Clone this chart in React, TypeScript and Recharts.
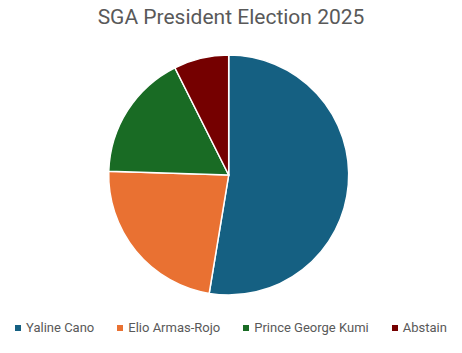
import React from "react";
import { PieChart, Pie, Cell, Legend } from "recharts";

const candidates = ["Yaline Cano", "Elio Armas-Rojo", "Prince George Kumi", "Abstain"];
const shares = [52.6, 22.9, 17.1, 7.4];
const colors = ["#156082", "#E97132", "#196B24", "#750000"];
const title = "SGA President Election 2025";

const data = candidates.map((name, i) => ({ name, value: shares[i] }));

const FONT = "Roboto, 'Noto Sans', sans-serif";

const renderLegend = () => {
  return (
    <div
      style={{
        display: "flex",
        justifyContent: "center",
        alignItems: "center",
        fontFamily: FONT,
        fontSize: 13,
        color: "#595959",
        width: 462,
      }}
    >
      {candidates.map((name, i) => (
        <div
          key={name}
          style={{ display: "flex", alignItems: "center", marginLeft: i === 0 ? 0 : 23 }}
        >
          <span
            style={{
              display: "inline-block",
              width: 6,
              height: 6,
              background: colors[i],
              marginRight: 5,
            }}
          />
          <span>{name}</span>
        </div>
      ))}
    </div>
  );
};

export default function App() {
  return (
    <div style={{ position: "absolute", left: 0, top: 0, width: 462, height: 353, background: "#fff" }}>
      <div
        style={{
          position: "absolute",
          left: 0,
          top: 5,
          width: 462,
          textAlign: "center",
          fontFamily: FONT,
          fontSize: 21,
          color: "#595959",
          zIndex: 2,
        }}
      >
        {title}
      </div>
      <PieChart width={462} height={353} margin={{ top: 0, right: 0, bottom: 0, left: 0 }}>
        <Pie
          data={data}
          dataKey="value"
          nameKey="name"
          cx={228.7}
          cy={175}
          outerRadius={120}
          startAngle={90}
          endAngle={-270}
          stroke="#ffffff"
          strokeWidth={1.5}
          isAnimationActive={false}
          legendType="square"
        >
          {data.map((d, i) => (
            <Cell key={d.name} fill={colors[i]} />
          ))}
        </Pie>
        <Legend
          content={renderLegend}
          verticalAlign="bottom"
          wrapperStyle={{ left: 0, bottom: 18, width: 462 }}
        />
      </PieChart>
    </div>
  );
}
